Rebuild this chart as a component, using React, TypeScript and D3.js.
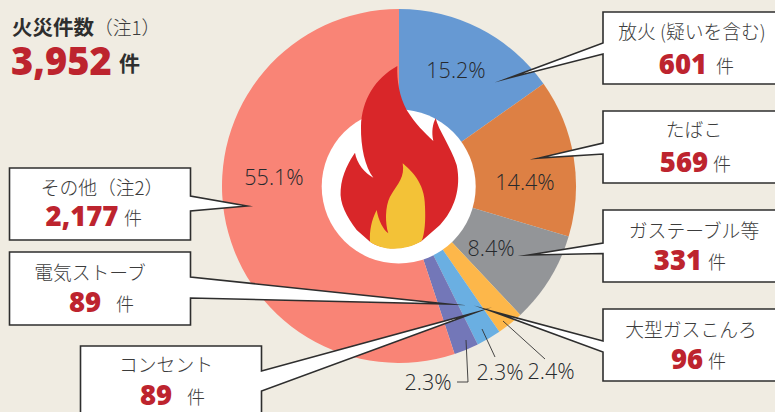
import React from "react";
import * as d3 from "d3";

const categories = ["放火 (疑いを含む)", "たばこ", "ガステーブル等", "大型ガスこんろ", "コンセント", "電気ストーブ", "その他（注2）"];
const counts = [601, 569, 331, 96, 89, 89, 2177];
const shares = ["15.2%", "14.4%", "8.4%", "2.4%", "2.3%", "2.3%", "55.1%"];
const sliceColors = ["#6699d3", "#dd8044", "#939598", "#fdb74a", "#6aafe2", "#7377b8", "#f98476"];
const totalLabel = "火災件数";
const totalNote = "（注1）";
const totalValue = 3952;

const W = 775, H = 412;
const cx = 399, cy = 186, R = 177;

const JP = "'Noto Sans CJK JP', sans-serif";
const NUM = "'Open Sans', sans-serif";
const RED = "#bd242e";
const INK = "#3c3c3c";

const fmt = d3.format(",");

const callouts = [
  { i: 0, x0: 603, x1: 790, y0: 12, y1: 84, ty0: 43, tx: 509, ty: 78, ty1: 54, lx: 692, ly: 39, nx: 683, ny: 74, ux: 725 },
  { i: 1, x0: 603, x1: 790, y0: 111, y1: 183, ty0: 143, tx: 539, ty: 158, ty1: 154, lx: 694, ly: 137, nx: 684, ny: 172, ux: 722 },
  { i: 2, x0: 603, x1: 790, y0: 210, y1: 282, ty0: 243, tx: 529, ty: 255, ty1: 253.5, lx: 694, ly: 238, nx: 678, ny: 270, ux: 717 },
  { i: 3, x0: 603, x1: 790, y0: 309, y1: 381, ty0: 341, tx: 491, ty: 311, ty1: 352, lx: 691, ly: 337, nx: 687, ny: 369, ux: 717 },
  { i: 6, x0: 9.5, x1: 190.5, y0: 168, y1: 240, ty0: 196, tx: 247, ty: 206, ty1: 211, lx: 102, ly: 195, nx: 82, ny: 226, ux: 133, side: "r" },
  { i: 5, x0: 9.5, x1: 190.5, y0: 252, y1: 325, ty0: 277, tx: 447, ty: 304, ty1: 298, lx: 90, ly: 280, nx: 85, ny: 312, ux: 125, side: "r" },
  { i: 4, x0: 80.5, x1: 261.5, y0: 346, y1: 430, ty0: 371, tx: 474, ty: 313, ty1: 391, lx: 166, ly: 372, nx: 156, ny: 405, ux: 196, side: "r" },
];

const pctLabels = [
  { i: 0, x: 456, y: 78 },
  { i: 1, x: 525, y: 190 },
  { i: 2, x: 491, y: 256 },
  { i: 3, x: 551, y: 379 },
  { i: 4, x: 500, y: 380 },
  { i: 5, x: 428, y: 390 },
  { i: 6, x: 274, y: 185 },
];

const leaders = [
  "M466,340 L468,382 L457,382",
  "M482,329 L495,357",
  "M503,321 L545,359",
];

const flameOuter =
  "M262,18 C260,60 268,110 290,150 C315,190 345,220 370,243 C364,215 368,192 377,175 C385,210 422,260 440,315 C455,385 432,450 390,495 L335,543 C290,567 225,575 180,545 L140,510 C110,470 88,430 92,390 C95,340 120,300 135,278 C140,310 165,340 190,353 C165,320 152,260 153,200 C155,120 195,55 262,18 Z";
const flameInner =
  "M278,310 C300,330 345,365 345,440 C347,480 345,520 335,543 C290,572 220,575 180,545 C178,510 185,480 200,450 C205,480 220,510 235,520 C225,490 225,440 240,410 C265,370 285,350 278,310 Z";

export default function App() {
  const pie = d3.pie<number>().sort(null).startAngle(0).endAngle(2 * Math.PI);
  const arc = d3.arc<d3.PieArcDatum<number>>().innerRadius(0).outerRadius(R);
  const arcs = pie(counts);

  return (
    <svg width={W} height={H} viewBox={`0 0 ${W} ${H}`} style={{ position: "absolute", left: 0, top: 0, background: "#f0ece2" }}>
      <rect width={W} height={H} fill="#f0ece2" />
      <g transform={`translate(${cx},${cy})`}>
        {arcs.map((a, k) => (
          <path key={k} d={arc(a) || ""} fill={sliceColors[k]} />
        ))}
      </g>
      <circle cx={398.7} cy={186.5} r={77} fill="#fff" />
      <g transform="translate(310,60) scale(0.33333)">
        <path d={flameOuter} fill="#d92629" />
        <path d={flameInner} fill="#f3c237" />
      </g>

      {pctLabels.map((p) => (
        <text key={p.i} x={p.x} y={p.y} textAnchor="middle" fontFamily={NUM} fontSize={21.5} fontWeight={300} fill="#26292d">
          {shares[p.i]}
        </text>
      ))}
      {leaders.map((d, k) => (
        <path key={k} d={d} fill="none" stroke="#333" strokeWidth={0.9} />
      ))}

      {callouts.map((c) => {
        const points =
          c.side === "r"
            ? [[c.x0, c.y0], [c.x1, c.y0], [c.x1, c.ty0], [c.tx, c.ty], [c.x1, c.ty1], [c.x1, c.y1], [c.x0, c.y1]]
            : [[c.x0, c.y0], [c.x1, c.y0], [c.x1, c.y1], [c.x0, c.y1], [c.x0, c.ty1], [c.tx, c.ty], [c.x0, c.ty0]];
        return (
          <g key={c.i}>
            <polygon points={points.map((p) => p.join(",")).join(" ")} fill="#fff" stroke="#2e2e2e" strokeWidth={1.6} strokeLinejoin="miter" strokeMiterlimit={30} />
            <text x={c.lx} y={c.ly} textAnchor="middle" fontFamily={JP} fontSize={18.8} fontWeight={300} fill={INK}>
              {categories[c.i]}
            </text>
            <text x={c.nx} y={c.ny} textAnchor="middle" fontFamily={NUM} fontSize={27.5} fontWeight={800} fill={RED}>
              {fmt(counts[c.i])}
            </text>
            <text x={c.ux} y={c.ny - 1} textAnchor="middle" fontFamily={JP} fontSize={18} fontWeight={300} fill={INK}>
              件
            </text>
          </g>
        );
      })}

      <text x={12} y={35} fontFamily={JP} fontSize={20.5} fontWeight={700} fill="#2e2e2e">{totalLabel}</text>
      <text x={94} y={35} fontFamily={JP} fontSize={18.8} fontWeight={300} fill={INK}>{totalNote}</text>
      <text x={11} y={75} fontFamily={NUM} fontSize={38} fontWeight={800} fill={RED}>{fmt(totalValue)}</text>
      <text x={119} y={71} fontFamily={JP} fontSize={21} fontWeight={700} fill="#2e2e2e">件</text>
    </svg>
  );
}
